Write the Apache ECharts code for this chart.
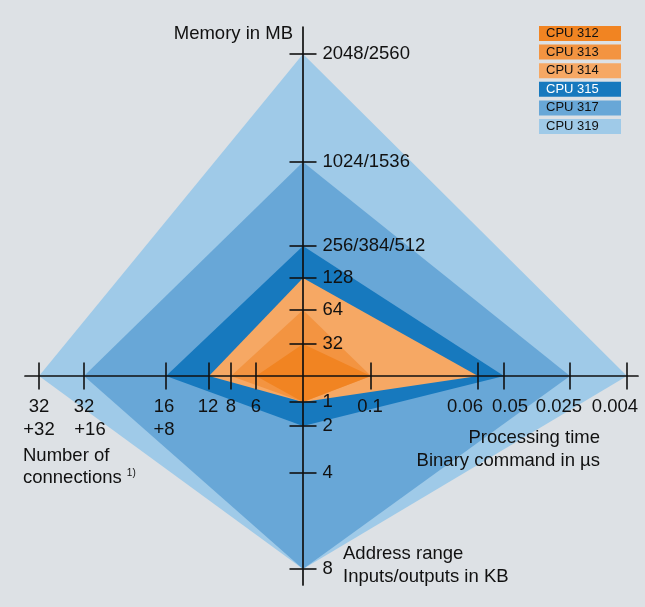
<!DOCTYPE html>
<html>
<head>
<meta charset="utf-8">
<script src="https://cdn.jsdelivr.net/npm/echarts@6/dist/echarts.min.js"></script>
<style>
  html, body { margin: 0; padding: 0; background: #dde1e5; }
  #main { width: 645px; height: 607px; }
</style>
</head>
<body>
<div id="main"></div>
<script>
// CPU family, smallest to largest
const cpuNames = ['CPU 312', 'CPU 313', 'CPU 314', 'CPU 315', 'CPU 317', 'CPU 319'];

// tick labels of the four arms
const memoryTicks = ['32', '64', '128', '256/384/512', '1024/1536', '2048/2560'];
const timeTicks = ['0.1', '0.06', '0.05', '0.025', '0.004'];
const addressTicks = ['1', '2', '4', '8'];
const connTicks = ['6', '8', '12', '16\n+8', '32\n+16', '32\n+32'];

// the arms are not linear: where each tick sits, counted out from the centre
const memoryScale = [32, 66, 98, 130, 214, 322];
const timeScale = [68, 175, 201, 267, 324];
const addressScale = [26, 50, 97, 193];
const connScale = [47, 72, 94, 137, 219, 264];

// value of every CPU on every arm
const cpuMemory = ['32', '64', '128', '256/384/512', '1024/1536', '2048/2560'];
const cpuTime = ['0.1', '0.1', '0.06', '0.05', '0.025', '0.004'];
const cpuAddress = ['1', '1', '1', '2', '8', '8'];
const cpuConn = ['6', '8', '12', '16\n+8', '32\n+16', '32\n+32'];

const cpuColors = ['#f18422', '#f39441', '#f6a864', '#1779be', '#68a7d7', '#9fcae8'];
const font = '"Liberation Sans", Arial, sans-serif';
const ink = '#111111';
const fs = 18.5;

function pos(scale, ticks, label) {
  return scale[ticks.indexOf(label)];
}

// x: connections to the left (negative), processing time to the right
const xTickValues = connScale.map(d => -d).concat(timeScale);
const xTickLabels = connTicks.concat(timeTicks);
// y: memory up, address range down (negative)
const yTickValues = memoryScale.concat(addressScale.map(d => -d));
const yTickLabels = memoryTicks.concat(addressTicks);

// a few labels sit a little off their tick in the original
const xLabelOffset = { '0.06': -13, '0.05': 6, '0.025': -11, '0.004': -12, '0.1': -1, '16\n+8': -2, '12': -1 };

function diamond(params, api) {
  const pts = [
    api.coord([0, api.value(0)]),
    api.coord([api.value(1), 0]),
    api.coord([0, -api.value(2)]),
    api.coord([-api.value(3), 0])
  ];
  return { type: 'polygon', shape: { points: pts }, style: { fill: api.visual('color') } };
}

const series = [];
// biggest first so the small ones stay on top
for (let i = cpuNames.length - 1; i >= 0; i--) {
  series.push({
    name: cpuNames[i],
    type: 'custom',
    renderItem: diamond,
    silent: true,
    itemStyle: { color: cpuColors[i] },
    data: [[
      pos(memoryScale, memoryTicks, cpuMemory[i]),
      pos(timeScale, timeTicks, cpuTime[i]),
      pos(addressScale, addressTicks, cpuAddress[i]),
      pos(connScale, connTicks, cpuConn[i])
    ]]
  });
}

const labelText = { fontSize: fs, fontFamily: font, color: ink };

// tick marks crossing the horizontal axis, labels underneath
series.push({
  type: 'scatter', silent: true, z: 6, symbol: 'rect', symbolSize: [1.6, 27],
  itemStyle: { color: ink, opacity: 1 },
  label: {
    show: true, position: 'bottom', distance: 6, lineHeight: 23, align: 'center',
    formatter: p => p.name === '32\n+16' ? '32\n{r6|+16}' : p.name,
    ...labelText,
    rich: { r6: { ...labelText, lineHeight: 23, padding: [0, 0, 0, 12] } }
  },
  data: xTickValues.map((v, i) => ({
    name: xTickLabels[i],
    value: [v, 0],
    label: { offset: [xLabelOffset[xTickLabels[i]] || 0, 0] }
  }))
});
// tick marks crossing the vertical axis, labels to the right
series.push({
  type: 'scatter', silent: true, z: 6, symbol: 'rect', symbolSize: [27, 1.6],
  itemStyle: { color: ink, opacity: 1 },
  label: { show: true, position: 'right', distance: 6, formatter: '{b}', ...labelText },
  data: yTickValues.map((v, i) => ({ name: yTickLabels[i], value: [0, v] }))
});

const chart = echarts.init(document.getElementById('main'));
chart.setOption({
  backgroundColor: '#dde1e5',
  animation: false,
  grid: { left: 25, right: 7, top: 27, bottom: 22, containLabel: false, outerBoundsMode: 'none' },
  xAxis: {
    type: 'value', min: -278, max: 335, z: 5,
    splitLine: { show: false },
    axisTick: { show: false },
    axisLabel: { show: false },
    axisLine: { onZero: true, lineStyle: { color: ink, width: 1.7 } }
  },
  yAxis: {
    type: 'value', min: -209, max: 349, z: 5,
    splitLine: { show: false },
    axisTick: { show: false },
    axisLabel: { show: false },
    axisLine: { onZero: true, lineStyle: { color: ink, width: 1.7 } }
  },
  legend: {
    orient: 'vertical', left: 534, top: 26, padding: 0,
    icon: 'none', itemWidth: 0, itemHeight: 15, itemGap: 3.6,
    selectedMode: false,
    data: cpuNames.map((n, i) => ({
      name: n,
      textStyle: { backgroundColor: cpuColors[i], color: i === 3 ? '#ffffff' : ink }
    })),
    textStyle: { fontFamily: font, fontSize: 13, width: 75, lineHeight: 15, padding: [0, 0, 0, 7] }
  },
  graphic: [
    {
      type: 'text', x: 293, y: 34, z: 20,
      style: { text: 'Memory in MB', font: fs + 'px ' + font, fill: ink, align: 'right', verticalAlign: 'middle' }
    },
    {
      type: 'text', x: 600, y: 426, z: 20,
      style: {
        text: 'Processing time\nBinary command in µs', font: fs + 'px ' + font, fill: ink,
        align: 'right', verticalAlign: 'top', lineHeight: 23
      }
    },
    {
      type: 'text', x: 23, y: 445, z: 20,
      style: {
        text: 'Number of\nconnections {sup|1)}', font: fs + 'px ' + font, fill: ink, lineHeight: 22,
        verticalAlign: 'top',
        rich: { sup: { font: '10px ' + font, fill: ink, lineHeight: 22, padding: [0, 0, 9, 0] } }
      }
    },
    {
      type: 'text', x: 343, y: 543, z: 20,
      style: {
        text: 'Address range\nInputs/outputs in KB', font: fs + 'px ' + font, fill: ink,
        lineHeight: 22.5, verticalAlign: 'top'
      }
    }
  ],
  series: series
});
</script>
</body>
</html>
